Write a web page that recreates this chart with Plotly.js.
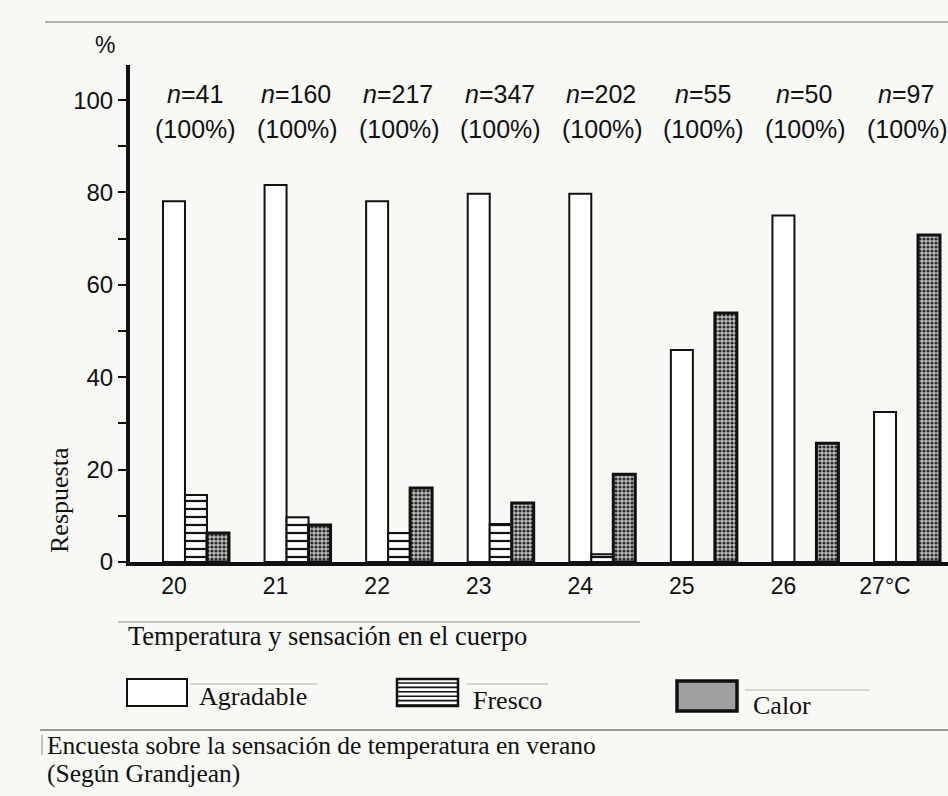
<!DOCTYPE html>
<html>
<head>
<meta charset="utf-8">
<script src="https://cdn.plot.ly/plotly-3.0.1.min.js"></script>
<style>
  html, body { margin: 0; padding: 0; background: #f8f8f5; }
  #chart { width: 948px; height: 796px; }
</style>
</head>
<body>
<div id="chart"></div>
<script>
// ---- data ----
const temps = [20, 21, 22, 23, 24, 25, 26, 27];
const tickLabels = ["20", "21", "22", "23", "24", "25", "26", "27°C"];
const sampleSizes = [41, 160, 217, 347, 202, 55, 50, 97];
const agradable = [78.1, 81.6, 78.1, 79.7, 79.7, 45.9, 75.0, 32.5];
const fresco = [14.5, 9.7, 6.3, 8.2, 1.7, 0, 0, 0];
const calor = [6.3, 8.0, 16.0, 12.8, 19.0, 53.9, 25.7, 70.8];
const seriesNames = ["Agradable", "Fresco", "Calor"];

// ---- layout helpers (pixel -> paper) ----
const W = 948, H = 796;
const M = { l: 130, r: 0, t: 65, b: 234 };
const PW = W - M.l - M.r, PH = H - M.t - M.b;
const px = x => (x - M.l) / PW;
const py = y => (H - M.b - y) / PH;

const BW = 0.2165;
const serif = "Liberation Serif, Times New Roman, serif";
const sans = "Liberation Sans, Arial, sans-serif";

const traces = [
  {
    type: "bar", name: seriesNames[0], x: temps, y: agradable,
    width: BW, offset: -BW / 2, showlegend: false,
    marker: { color: "#ffffff", line: { color: "#111", width: 2 } }
  },
  {
    type: "bar", name: seriesNames[1], x: temps, y: fresco,
    width: BW, offset: BW / 2, showlegend: false,
    marker: {
      color: "#ffffff", line: { color: "#111", width: 2 },
      pattern: { shape: "-", fgcolor: "#111", bgcolor: "#ffffff", size: 8, solidity: 0.28 }
    }
  },
  {
    type: "bar", name: seriesNames[2], x: temps, y: calor,
    width: BW, offset: BW * 1.5, showlegend: false,
    marker: {
      color: "#9a9a9a", line: { color: "#111", width: 3 },
      pattern: { shape: ".", fgcolor: "#2a2a2a", bgcolor: "#bdbdbd", size: 4, solidity: 0.5 }
    }
  }
];

const annotations = [];
temps.forEach((t, i) => {
  annotations.push({
    x: t + BW * 0.95, y: py(94), xref: "x", yref: "paper",
    text: "<i>n</i>=" + sampleSizes[i], showarrow: false,
    font: { family: sans, size: 25, color: "#111" }, xanchor: "center", yanchor: "middle"
  });
  annotations.push({
    x: t + BW, y: py(129), xref: "x", yref: "paper",
    text: "(100%)", showarrow: false,
    font: { family: sans, size: 25, color: "#111" }, xanchor: "center", yanchor: "middle"
  });
});
annotations.push(
  { x: px(105), y: py(45), xref: "paper", yref: "paper", text: "%", showarrow: false,
    font: { family: sans, size: 23, color: "#111" }, xanchor: "center", yanchor: "middle" },
  { x: px(59), y: py(500), xref: "paper", yref: "paper", text: "Respuesta", showarrow: false,
    textangle: -90, font: { family: serif, size: 26, color: "#111" }, xanchor: "center", yanchor: "middle" },
  { x: px(126), y: py(636), xref: "paper", yref: "paper", text: "Temperatura y sensación en el cuerpo",
    showarrow: false, font: { family: serif, size: 26.5, color: "#111" }, xanchor: "left", yanchor: "middle" },
  { x: px(197), y: py(696), xref: "paper", yref: "paper", text: seriesNames[0],
    showarrow: false, font: { family: serif, size: 26, color: "#111" }, xanchor: "left", yanchor: "middle" },
  { x: px(471), y: py(700), xref: "paper", yref: "paper", text: seriesNames[1],
    showarrow: false, font: { family: serif, size: 26, color: "#111" }, xanchor: "left", yanchor: "middle" },
  { x: px(751), y: py(705), xref: "paper", yref: "paper", text: seriesNames[2],
    showarrow: false, font: { family: serif, size: 26, color: "#111" }, xanchor: "left", yanchor: "middle" },
  { x: px(45), y: py(745), xref: "paper", yref: "paper", text: "Encuesta sobre la sensación de temperatura en verano",
    showarrow: false, font: { family: serif, size: 25.5, color: "#111" }, xanchor: "left", yanchor: "middle" },
  { x: px(45), y: py(773), xref: "paper", yref: "paper", text: "(Según Grandjean)",
    showarrow: false, font: { family: serif, size: 25.5, color: "#111" }, xanchor: "left", yanchor: "middle" }
);

const rect = (x0, y0, x1, y1, extra) => Object.assign({
  type: "rect", xref: "paper", yref: "paper",
  x0: px(x0), x1: px(x1), y0: py(y0), y1: py(y1), layer: "above"
}, extra);
const hline = (x0, x1, y, color, w) => ({
  type: "line", xref: "paper", yref: "paper",
  x0: px(x0), x1: px(x1), y0: py(y), y1: py(y),
  line: { color: color, width: w }, layer: "above"
});

const shapes = [
  // page edge / paste-up lines
  hline(45, 948, 22, "#9a9a96", 1.5),
  hline(118, 640, 622, "#b0b0ac", 1.5),
  hline(40, 948, 730, "#7a7a76", 1.5),
  { type: "line", xref: "paper", yref: "paper", x0: px(42), x1: px(42), y0: py(735), y1: py(755),
    line: { color: "#888", width: 1 }, layer: "above" },
  // legend swatches
  rect(127, 679, 187, 706, { fillcolor: "#ffffff", line: { color: "#111", width: 2 } }),
  rect(397, 679, 458, 706, { fillcolor: "#ffffff", line: { color: "#111", width: 2.5 } }),
  rect(677, 681, 737, 711, { fillcolor: "#a0a0a0", line: { color: "#111", width: 3.5 } }),
  // label paste-up edges
  hline(190, 318, 684, "#b5b5b0", 1.2),
  hline(466, 548, 684, "#b5b5b0", 1.2),
  hline(745, 870, 690, "#b5b5b0", 1.2)
];
for (let k = 0; k < 6; k++) {
  const y = 683 + k * 4.4;
  shapes.push(hline(397, 458, y, "#111", 1.6));
}

const layout = {
  width: W, height: H,
  margin: M,
  paper_bgcolor: "#f8f8f5",
  plot_bgcolor: "rgba(0,0,0,0)",
  barmode: "overlay",
  showlegend: false,
  xaxis: {
    range: [19.567, 27.62],
    tickmode: "array", tickvals: temps, ticktext: tickLabels,
    showline: true, linecolor: "#111", linewidth: 4,
    showgrid: false, zeroline: false, ticks: "", ticklen: 0,
    tickfont: { family: sans, size: 23, color: "#111" }
  },
  yaxis: {
    range: [0, 107.6],
    tickmode: "linear", tick0: 0, dtick: 20,
    showline: true, linecolor: "#111", linewidth: 4,
    showgrid: false, zeroline: false,
    ticks: "outside", ticklen: 8, tickwidth: 2, tickcolor: "#111",
    minor: { dtick: 10, ticks: "outside", ticklen: 8, tickwidth: 2, tickcolor: "#111", showgrid: false },
    tickfont: { family: sans, size: 24, color: "#111" }
  },
  annotations: annotations,
  shapes: shapes
};

Plotly.newPlot("chart", traces, layout, { displayModeBar: false, staticPlot: true });
</script>
</body>
</html>
